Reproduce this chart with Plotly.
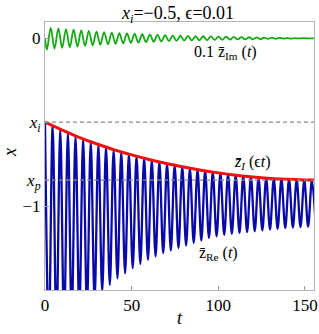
import plotly.graph_objects as go

# ---- data ----
x_i = -0.5
x_p = -0.845

# red envelope  z_I(eps t)
env_t = [0, 10, 20, 30, 40, 50, 60, 70, 80, 90, 100, 110, 120, 130, 140, 150, 155.2]
env_x = [-0.500, -0.548, -0.592, -0.630, -0.665, -0.695, -0.722, -0.746, -0.767,
         -0.786, -0.802, -0.816, -0.827, -0.835, -0.840, -0.844, -0.845]

# blue z_Re(t): maxima and minima of the oscillation
re_peak_t = [0.0, 4.4, 8.8, 13.2, 17.6, 22.0, 26.4, 30.8, 35.2, 39.6, 44.0, 48.4,
             52.8, 57.2, 61.6, 66.0, 70.4, 74.8, 79.2, 83.6, 88.0, 92.4, 96.8, 101.2,
             105.6, 110.0, 114.4, 118.8, 123.2, 127.6, 132.0, 136.4, 140.8, 145.2,
             149.6, 154.0]
re_peak_x = [-0.500, -0.521, -0.542, -0.562, -0.581, -0.600, -0.616, -0.633, -0.648,
             -0.664, -0.677, -0.690, -0.703, -0.715, -0.726, -0.736, -0.747, -0.756,
             -0.765, -0.774, -0.782, -0.790, -0.797, -0.804, -0.810, -0.816, -0.821,
             -0.826, -0.830, -0.833, -0.836, -0.838, -0.840, -0.842, -0.844, -0.845]
re_trough_t = [2.2, 6.6, 11.0, 15.4, 19.8, 24.2, 28.6, 33.0, 37.4, 41.8, 46.2, 50.6,
               55.0, 59.4, 63.8, 68.2, 72.6, 77.0, 81.4, 85.8, 90.2, 94.6, 99.0, 103.4,
               107.8, 112.2, 116.6, 121.0, 125.4, 129.8, 134.2, 138.6, 143.0, 147.4,
               151.8, 156.2]
re_trough_x = [-1.78, -1.74, -1.71, -1.67, -1.63, -1.60, -1.56, -1.51, -1.47, -1.43,
               -1.40, -1.37, -1.345, -1.32, -1.30, -1.28, -1.265, -1.25, -1.235, -1.22,
               -1.205, -1.19, -1.18, -1.172, -1.165, -1.16, -1.155, -1.15, -1.145,
               -1.14, -1.135, -1.13, -1.128, -1.125, -1.123, -1.122]

# green 0.1 z_Im(t): start, minima and maxima
im_start_t = [0.0]
im_start_v = [0.0]
im_trough_t = [1.1, 5.5, 9.9, 14.3, 18.7, 23.1, 27.5, 31.9, 36.3, 40.7, 45.1, 49.5,
               53.9, 58.3, 62.7, 67.1, 71.5, 75.9, 80.3, 84.7, 89.1, 93.5, 97.9, 102.3,
               106.7, 111.1, 115.5, 119.9, 124.3, 128.7, 133.1, 137.5, 141.9, 146.3,
               150.7, 155.1]
im_trough_v = [-0.068, -0.061, -0.057, -0.053, -0.049, -0.045, -0.042, -0.039, -0.036,
               -0.033, -0.030, -0.027, -0.025, -0.023, -0.021, -0.019, -0.017, -0.015,
               -0.014, -0.013, -0.012, -0.011, -0.010, -0.009, -0.008, -0.007, -0.007,
               -0.006, -0.005, -0.004, -0.003, -0.002, -0.002, -0.001, 0.0, 0.0]
im_peak_t = [3.3, 7.7, 12.1, 16.5, 20.9, 25.3, 29.7, 34.1, 38.5, 42.9, 47.3, 51.7,
             56.1, 60.5, 64.9, 69.3, 73.7, 78.1, 82.5, 86.9, 91.3, 95.7, 100.1, 104.5,
             108.9, 113.3, 117.7, 122.1, 126.5, 130.9, 135.3, 139.7, 144.1, 148.5, 152.9]
im_peak_v = [0.062, 0.059, 0.055, 0.051, 0.047, 0.044, 0.040, 0.037, 0.034, 0.031,
             0.029, 0.026, 0.024, 0.022, 0.020, 0.018, 0.016, 0.015, 0.014, 0.013,
             0.012, 0.011, 0.010, 0.009, 0.008, 0.007, 0.006, 0.005, 0.004, 0.004,
             0.003, 0.002, 0.001, 0.001, 0.0]

tick_vals = [0, x_i, x_p, -1]
tick_text = ["0", "<i>x<sub>i</sub></i>", "<i>x<sub>p</sub></i>", "\u22121"]
x_ticks = [0, 50, 100, 150]

# ---- assemble series (ordered by time) ----
re_pts = sorted(zip(re_peak_t + re_trough_t, re_peak_x + re_trough_x))
im_pts = sorted(zip(im_start_t + im_trough_t + im_peak_t,
                    im_start_v + im_trough_v + im_peak_v))

FONT = "Liberation Serif"

fig = go.Figure()
fig.add_hline(y=x_i, line=dict(color="#8a8a8a", width=1.3, dash="4px,3px"))
fig.add_hline(y=x_p, line=dict(color="#8a8a8a", width=1.3, dash="4px,3px"))

fig.add_trace(go.Scatter(x=[p[0] for p in re_pts], y=[p[1] for p in re_pts],
                         mode="lines", line=dict(color="#0a0aa8", width=2.3,
                                                 shape="spline", smoothing=1.0),
                         showlegend=False, hoverinfo="skip"))
fig.add_trace(go.Scatter(x=env_t, y=env_x, mode="lines",
                         line=dict(color="#f01010", width=3, shape="spline"),
                         showlegend=False, hoverinfo="skip"))
fig.add_trace(go.Scatter(x=[p[0] for p in im_pts], y=[p[1] for p in im_pts],
                         mode="lines", line=dict(color="#12aa12", width=1.8,
                                                 shape="spline", smoothing=1.0),
                         showlegend=False, hoverinfo="skip"))

ann_font = dict(family=FONT, size=16, color="black")
fig.add_annotation(x=104, y=-0.085, xref="x", yref="y", showarrow=False,
                   text="0.1 z\u0304<sub>Im</sub> (<i>t</i>)", font=ann_font)
fig.add_annotation(x=120, y=-0.742, xref="x", yref="y", showarrow=False,
                   text="<i>z\u0304<sub>I</sub></i> (\u03f5<i>t</i>)", font=ann_font)
fig.add_annotation(x=100, y=-1.28, xref="x", yref="y", showarrow=False,
                   text="z\u0304<sub>Re</sub> (<i>t</i>)", font=ann_font)
# axis titles
fig.add_annotation(x=0.5, y=0, xref="paper", yref="paper", yshift=-28,
                   yanchor="middle", showarrow=False, text="<i>t</i>",
                   font=dict(family=FONT, size=18))
fig.add_annotation(x=0, y=0.511, xref="paper", yref="paper", xshift=-35,
                   xanchor="center", yanchor="middle", showarrow=False,
                   text="<i>x</i>", textangle=-90,
                   font=dict(family=FONT, size=18))

fig.update_layout(
    width=319, height=334,
    margin=dict(l=45, r=5, t=22, b=44, autoexpand=False),
    paper_bgcolor="white", plot_bgcolor="white",
    font=dict(family=FONT, size=17, color="black"),
    title=dict(text="<i>x<sub>i</sub></i>=\u22120.5, \u03f5=0.01",
               x=0.558, xanchor="center", y=0.962, yanchor="middle",
               xref="container", yref="container",
               font=dict(family=FONT, size=18)),
    xaxis=dict(range=[0, 155.2], tickvals=x_ticks, ticks="inside", ticklen=4,
               tickcolor="#999", showline=True, mirror=True, linecolor="#b4b4b4",
               linewidth=1, showgrid=False, zeroline=False, automargin=False,
               tickfont=dict(family=FONT, size=17)),
    yaxis=dict(range=[-1.5, 0.097], tickvals=tick_vals, ticktext=tick_text,
               ticks="inside", ticklen=4, tickcolor="#999", showline=True, mirror=True,
               linecolor="#b4b4b4", linewidth=1, showgrid=False, zeroline=False,
               automargin=False, tickfont=dict(family=FONT, size=17)),
)

fig.write_html("out.html", config={"displayModeBar": False},
               post_script="document.body.style.margin='0';")
